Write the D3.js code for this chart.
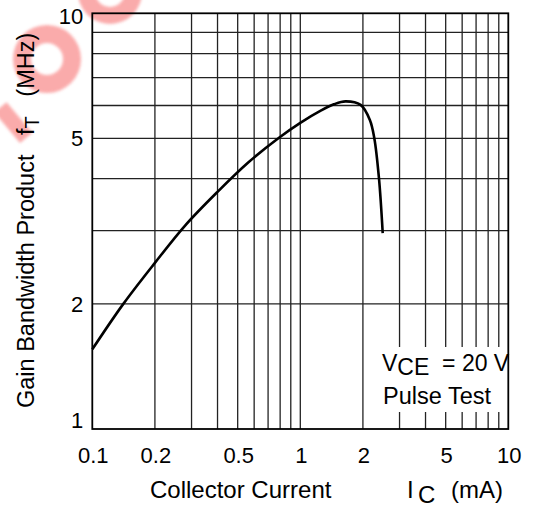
<!DOCTYPE html>
<html>
<head>
<meta charset="utf-8">
<script src="https://cdn.jsdelivr.net/npm/d3@7"></script>
<style>
  body { margin: 0; background: #fff; }
  text { font-family: "Liberation Sans", Arial, sans-serif; fill: #000; white-space: pre; }
</style>
</head>
<body>
<div class="main-container"></div>
<script>
// collector current (mA) vs gain bandwidth product (MHz)
const currentMA = [0.1, 0.141, 0.2, 0.28, 0.4, 0.56, 0.79, 1.0, 1.26, 1.45, 1.65, 1.95, 2.16, 2.27, 2.39, 2.49];
const ftMHz     = [1.555, 2.0, 2.51, 3.09, 3.72, 4.37, 5.02, 5.45, 5.84, 6.04, 6.14, 6.02, 5.54, 5.0, 4.0, 2.96];

const xTicks = [0.1, 0.2, 0.5, 1, 2, 5, 10];
const yTicks = [1, 2, 5, 10];
const xGrid = [0.2, 0.3, 0.4, 0.5, 0.6, 0.7, 0.8, 0.9, 1, 2, 3, 4, 5, 6, 7, 8, 9];
const yGrid = [2, 3, 4, 5, 6, 7, 8, 9];

let margin = {top: 13.3, left: 92.3},
  width = 416,
  height = 415.7;

const root = d3.select(".main-container")
  .append("svg")
  .attr("width", 542)
  .attr("height", 507);

root.append("defs")
  .append("filter")
  .attr("id", "soft")
  .append("feGaussianBlur")
  .attr("stdDeviation", 1.5);

// faint red watermark in the corner
const wm = root.append("g")
  .attr("fill", "#f98f8f")
  .attr("opacity", 0.75)
  .attr("filter", "url(#soft)");
const ring = d3.arc();
wm.append("path")
  .attr("transform", "translate(47,59)")
  .attr("d", ring({innerRadius: 16, outerRadius: 34, startAngle: 0, endAngle: 2 * Math.PI}));
wm.append("path")
  .attr("transform", "translate(110,-8)")
  .attr("d", ring({innerRadius: 15, outerRadius: 32, startAngle: 0, endAngle: 2 * Math.PI}));
wm.append("rect")
  .attr("x", -10).attr("y", 0).attr("width", 16).attr("height", 40)
  .attr("transform", "translate(2,106) rotate(-40)");

const svg = root.append("g")
  .attr("transform", "translate(" + margin.left + "," + margin.top + ")");

let x = d3.scaleLog()
  .domain([0.1, 10])
  .range([0, width]);

let y = d3.scaleLog()
  .domain([1, 10])
  .range([height, 0]);

// grid
svg.append("g")
  .selectAll("line")
  .data(xGrid)
  .join("line")
  .attr("x1", d => x(d)).attr("x2", d => x(d))
  .attr("y1", 0).attr("y2", height)
  .attr("stroke", "#222")
  .attr("stroke-width", 1.3);

svg.append("g")
  .selectAll("line")
  .data(yGrid)
  .join("line")
  .attr("y1", d => y(d)).attr("y2", d => y(d))
  .attr("x1", 0).attr("x2", width)
  .attr("stroke", "#222")
  .attr("stroke-width", 1.3);

// legend box hides the grid behind it
const legendX = x(2) + 1.5;
svg.append("rect")
  .attr("x", legendX)
  .attr("y", 347 - margin.top)
  .attr("width", width - legendX)
  .attr("height", 65)
  .attr("fill", "#fff");

svg.append("rect")
  .attr("width", width)
  .attr("height", height)
  .attr("fill", "none")
  .attr("stroke", "#000")
  .attr("stroke-width", 1.8);

svg.append("path")
  .datum(currentMA.map((c, i) => ({c: c, f: ftMHz[i]})))
  .attr("fill", "none")
  .attr("stroke", "#000")
  .attr("stroke-width", 2.6)
  .attr("d", d3.line()
    .x(d => x(d.c))
    .y(d => y(d.f))
    .curve(d3.curveCatmullRom.alpha(0.5))
  );

// tick labels
svg.append("g")
  .selectAll("text")
  .data(xTicks)
  .join("text")
  .attr("x", d => x(d) + 1)
  .attr("y", height + 34)
  .attr("text-anchor", "middle")
  .style("font-size", "22px")
  .text(d => d);

svg.append("g")
  .selectAll("text")
  .data(yTicks)
  .join("text")
  .attr("x", -9)
  .attr("y", d => Math.max(11, Math.min(height - 1, y(d) + 8)))
  .attr("text-anchor", "end")
  .style("font-size", "22px")
  .text(d => d);

// legend text
const vce = svg.append("text")
  .attr("x", 382 - margin.left)
  .attr("y", 371 - margin.top)
  .style("font-size", "23px");
vce.append("tspan").text("V");
vce.append("tspan").attr("dy", 4).text("CE");
vce.append("tspan").attr("dy", -4).text("  = 20 V");

svg.append("text")
  .attr("x", 383 - margin.left)
  .attr("y", 404 - margin.top)
  .style("font-size", "23.5px")
  .text("Pulse Test");

// axis titles
root.append("text")
  .attr("x", 150)
  .attr("y", 498)
  .style("font-size", "24px")
  .text("Collector Current");
root.append("text")
  .attr("x", 407)
  .attr("y", 498)
  .style("font-size", "24px")
  .text("I");
root.append("text")
  .attr("x", 418)
  .attr("y", 503)
  .style("font-size", "24px")
  .text("C");
root.append("text")
  .attr("x", 451)
  .attr("y", 498)
  .style("font-size", "24px")
  .text("(mA)");

const ytitle = root.append("text")
  .attr("transform", "translate(34,408) rotate(-90)")
  .style("font-size", "23.5px");
ytitle.append("tspan").text("Gain Bandwidth Product   f");
ytitle.append("tspan").attr("dy", 5).style("font-size", "20px").text("T");
ytitle.append("tspan").attr("dy", -5).text("   (MHz)");
</script>
</body>
</html>
